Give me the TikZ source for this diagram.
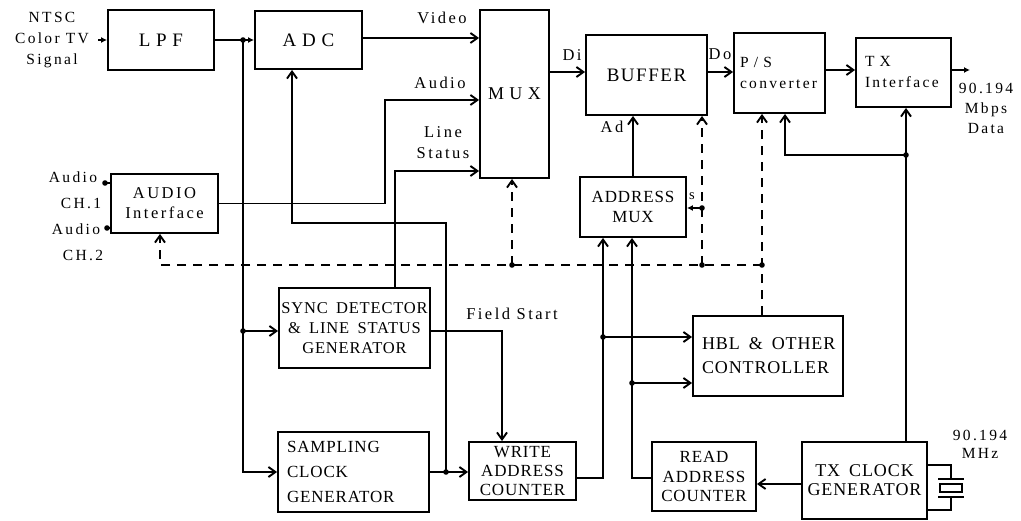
\documentclass[tikz,border=0pt]{standalone}
\usepackage{fontspec}
\setmainfont{Liberation Serif}
\newfontfamily\bxf{Liberation Serif}[LetterSpace=5]
\newfontfamily\bxw{Liberation Serif}[LetterSpace=8]
\newfontfamily\lbf{Liberation Serif}[LetterSpace=15]
\usetikzlibrary{arrows.meta}
\newcommand\wsp{\hspace{0.5em}}
\begin{document}
\begin{tikzpicture}[x=1pt,y=-1pt,
  line width=1.9pt,
  blk/.style={draw, rectangle, inner sep=0pt, align=center},
  arr/.style={-{Straight Barb[length=7pt,width=10pt]}},
  sarr/.style={-{Latex[length=6pt,width=6pt]}},
  dsh/.style={dash pattern=on 9pt off 7pt},
  bt/.style={font=\bxf\fontsize{17}{20}\selectfont},
  bg/.style={font=\bxf\fontsize{19}{22}\selectfont},
  lt/.style={font=\lbf\fontsize{16.5}{21}\selectfont},
  lts/.style={font=\lbf\fontsize{15.5}{21}\selectfont},
]
\useasboundingbox (0,0) rectangle (1021,521);

% ---------- blocks ----------
\node[blk, bg, minimum width=106pt, minimum height=60pt] (lpf) at (161,40) {L P F};
\node[blk, bg, minimum width=107pt, minimum height=58pt] (adc) at (308.5,40) {A D C};
\node[blk, font=\bxf\fontsize{18}{22}\selectfont, minimum width=69pt, minimum height=168pt] (mux) at (514.5,94) {M U X};
\node[blk, font=\bxw\fontsize{19}{22}\selectfont, minimum width=121pt, minimum height=80pt] (buf) at (646.5,75) {BUFFER};
\node[blk, lts, text width=79pt, align=left, inner xsep=6pt, minimum height=80pt] (ps) at (779.5,73) {P / S\\converter};
\node[blk, lts, text width=77pt, align=left, inner xsep=9pt, minimum height=69pt] (txi) at (903.5,72.5) {T X\\Interface};
\node[blk, font=\lbf\fontsize{16.5}{20}\selectfont, minimum width=107pt, minimum height=59pt] (aud) at (164.5,203.5) {AUDIO\\Interface};
\node[blk, bt, minimum width=106pt, minimum height=60pt] (amux) at (633,207) {ADDRESS\\MUX};
\node[blk, font=\bxf\fontsize{16.5}{20}\selectfont, minimum width=151pt, minimum height=80pt] (sync) at (354.5,328) {SYNC\wsp DETECTOR\\\&\wsp LINE\wsp STATUS\\GENERATOR};
\node[blk, font=\bxf\fontsize{17}{25}\selectfont, text width=133pt, align=left, inner xsep=9pt, minimum height=80pt] (samp) at (353.5,472) {SAMPLING\\CLOCK\\GENERATOR};
\node[blk, font=\bxf\fontsize{17}{19}\selectfont, minimum width=107pt, minimum height=58pt] (wac) at (522.5,471) {WRITE\\ADDRESS\\COUNTER};
\node[blk, font=\bxf\fontsize{18}{24}\selectfont, text width=132pt, align=left, inner xsep=9pt, minimum height=80pt] (hbl) at (768,356) {\mbox{HBL\wsp\&\wsp OTHER}\\CONTROLLER};
\node[blk, font=\bxf\fontsize{17}{19.5}\selectfont, minimum width=104pt, minimum height=69pt] (rac) at (704,476.5) {READ\\ADDRESS\\COUNTER};
\node[blk, font=\bxf\fontsize{18}{19}\selectfont, minimum width=125pt, minimum height=77pt] (txc) at (864.5,480.5) {TX\wsp CLOCK\\GENERATOR};

% ---------- helper coordinates ----------
\coordinate (ntscin) at (98,40);
\coordinate (j1) at (243,40);
\coordinate (j2) at (243,331);
\coordinate (vid) at (0,38);
\coordinate (au) at (385,100);
\coordinate (lsc) at (395,171);
\coordinate (ck1) at (446,472);
\coordinate (ck2) at (446,223);
\coordinate (ck3) at (292,223);
\coordinate (fs) at (502,331);
\coordinate (yb) at (0,72);
\coordinate (yt) at (0,70);
\coordinate (txo) at (970,70);
\coordinate (tc) at (906,155);
\coordinate (pc) at (785,155);
\coordinate (yr) at (0,484);
\coordinate (ra) at (632,478);
\coordinate (ra2) at (632,383);
\coordinate (wa) at (603,478);
\coordinate (wa2) at (603,337);
\coordinate (sj) at (702,208);
\coordinate (dA) at (160,265);
\coordinate (dM) at (512,265);
\coordinate (dB) at (702,265);
\coordinate (dP) at (762,265);
\coordinate (c1) at (105,183);
\coordinate (c2) at (107,228);

% ---------- connectors ----------
\draw[sarr] (ntscin) -- (lpf.west);
\draw (lpf.east) -- (j1);
\draw[sarr] (j1) -- (adc.west);
\draw[arr] (j1) -- (j1 |- samp.west) -- (samp.west);
\draw[arr] (j2) -- (j2 -| sync.west);
\draw[arr] (adc.east |- vid) -- (mux.west |- vid);
\draw[arr] (aud.east) -| (au) -- (au -| mux.west);
\draw[arr] (lsc |- sync.north) -- (lsc) -- (lsc -| mux.west);
\draw[arr] (samp.east) -- (samp.east -| wac.west);
\draw[arr] (ck1) -- (ck2) -- (ck3) -- (ck3 |- adc.south);
\draw[arr] (sync.east |- fs) -- (fs) -- (fs |- wac.north);
\draw[arr] (mux.east |- yb) -- (buf.west |- yb);
\draw[arr] (buf.east |- yb) -- (ps.west |- yb);
\draw[arr] (ps.east |- yt) -- (txi.west |- yt);
\draw[sarr] (txi.east |- yt) -- (txo);
\draw[arr] (txc.north -| tc) -- (tc |- txi.south);
\draw[arr] (tc) -- (pc) -- (pc |- ps.south);
\draw[arr] (txc.west |- yr) -- (rac.east |- yr);
\draw[arr] (rac.west |- ra) -- (ra) -- (ra |- amux.south);
\draw[arr] (ra2) -- (ra2 -| hbl.west);
\draw[arr] (wac.east |- wa) -- (wa) -- (wa |- amux.south);
\draw[arr] (wa2) -- (wa2 -| hbl.west);
\draw[arr] (amux.north) -- (amux.north |- buf.south);
\draw[sarr] (sj) -- (sj -| amux.east);
\draw (c1) -- (c1 -| aud.west);
\draw (c2) -- (c2 -| aud.west);

% dashed control lines
\draw[dsh, arr] (dP) -- (dA) -- (dA |- aud.south);
\draw[dsh, arr] (dM) -- (dM |- mux.south);
\draw[dsh, arr] (dB) -- (dB |- buf.south);
\draw[dsh, arr] (dP |- hbl.north) -- (dP) -- (dP |- ps.south);

% junction dots
\foreach \p in {j1,j2,ck1,tc,ra2,wa2,sj,dM,dB,dP,c1,c2}
  \fill (\p) circle (2.8pt);

% crystal
\coordinate (x1) at (951,465);
\coordinate (x2) at (951,510);
\draw (txc.east |- x1) -- (x1) -- (951,479);
\draw (938,479) -- (964,479);
\draw (940,484) rectangle (962,492);
\draw (938,497) -- (964,497);
\draw (951,497) -- (x2) -- (txc.east |- x2);

% ---------- labels ----------
\node[lts, align=center] (ntsc) at (52,40) {NTSC\\Color TV\\Signal};
\node[lt] (lvid) at (442,18) {Video};
\node[lt] (laud) at (440,83) {Audio};
\node[lt, align=center] (lls) at (443,143) {Line\\Status};
\node[lt] (lfs) at (512,314) {Field Start};
\node[lt] (ldi) at (572,55) {Di};
\node[lt] (ldo) at (720,54) {Do};
\node[lt] (lad) at (612,127) {Ad};
\node[font=\lbf\fontsize{14.5}{15}\selectfont] (lsel) at (692,196) {s};
\node[align=center, font=\lbf\fontsize{15.5}{20}\selectfont] (ldata) at (986,108) {90.194\\Mbps\\Data};
\node[font=\lbf\fontsize{15.5}{18}\selectfont, align=center] (lmhz) at (980,444) {90.194\\MHz};
\node[lts] (lch1a) at (73,177) {Audio};
\node[lts] (lch1) at (81,203) {CH.1};
\node[lts] (lch2a) at (76,229) {Audio};
\node[lts] (lch2) at (83,255) {CH.2};
\end{tikzpicture}
\end{document}
